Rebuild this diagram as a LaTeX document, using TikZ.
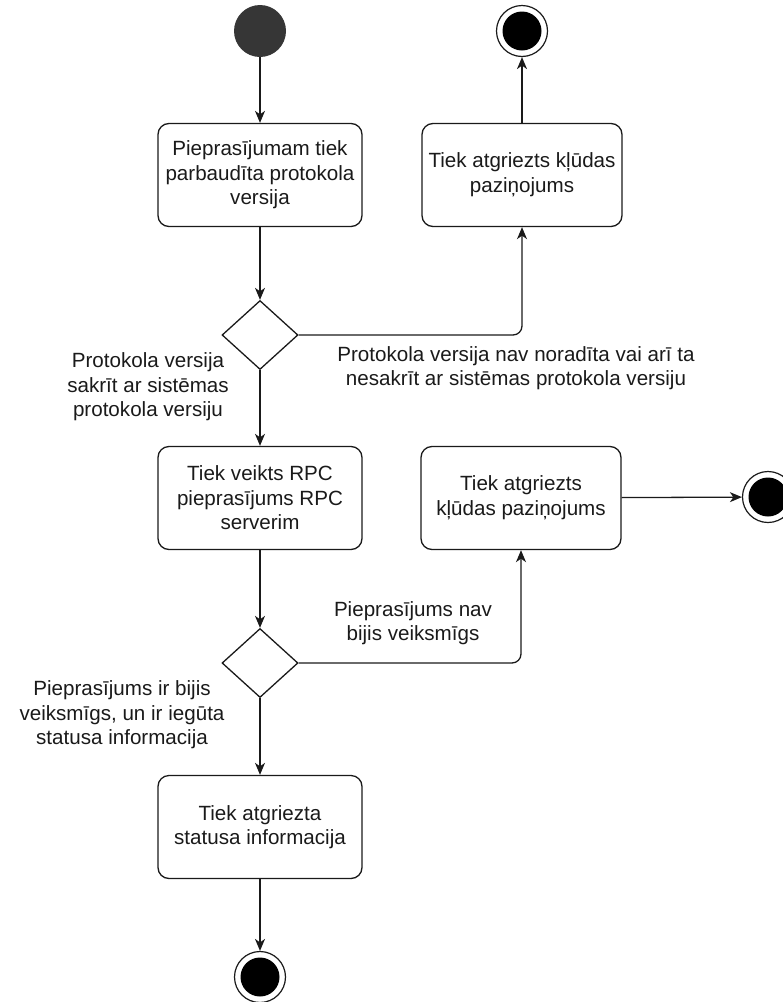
\documentclass[tikz,border=0pt]{standalone}
\usepackage{fontspec}
\setmainfont{Liberation Sans}
\usetikzlibrary{shapes.geometric,arrows.meta}
\definecolor{ink}{HTML}{1A1A1A}
\definecolor{startfill}{HTML}{363636}
\begin{document}
\begin{tikzpicture}[x=1pt,y=-1pt,
  every node/.style={font=\fontsize{20.6}{24.6}\selectfont, text=ink},
  actbox/.style={draw=ink, line width=1.3pt, rounded corners=11pt, minimum width=204pt, minimum height=103pt, align=center, inner sep=2pt},
  decision/.style={draw=ink, line width=1.3pt, diamond, minimum width=76pt, minimum height=69pt, inner sep=0pt},
  startnode/.style={circle, fill=startfill, minimum size=52pt, inner sep=0pt},
  endnode/.style={circle, draw=ink, fill=white, line width=1.2pt, minimum size=51pt, inner sep=0pt,
    path picture={\fill[black] (path picture bounding box.center) circle (19.5pt);}},
  guard/.style={align=center},
  flow/.style={draw=ink, line width=1.3pt, -{Stealth[length=12pt,width=10pt,inset=3.5pt]}, rounded corners=9pt}
]
\useasboundingbox (0,0) rectangle (783,1002);

% activity nodes
\node[startnode] (start) at (260,31) {};
\node[actbox] (check) at (260,175) {Pieprasījumam tiek\\parbaudīta protokola\\versija};
\node[actbox, minimum width=200pt] (err1) at (522,175) {Tiek atgriezts kļūdas\\paziņojums};
\node[endnode] (end1) at (522,31) {};
\node[decision] (dec1) at (260,335) {};
\node[actbox] (rpc) at (260,498) {Tiek veikts RPC\\pieprasījums RPC\\serverim};
\node[actbox, minimum width=200pt] (err2) at (521,498) {Tiek atgriezts\\kļūdas paziņojums};
\node[endnode] (end2) at (768,497) {};
\node[decision] (dec2) at (260,663) {};
\node[actbox] (status) at (260,827) {Tiek atgriezta\\statusa informacija};
\node[endnode] (end3) at (260,977) {};

% guard labels
\node[guard] (g1) at (148,387) {Protokola versija\\sakrīt ar sistēmas\\protokola versiju};
\node[guard] (g2) at (516,368) {Protokola versija nav noradīta vai arī ta\\nesakrīt ar sistēmas protokola versiju};
\node[guard] (g3) at (413,623) {Pieprasījums nav\\bijis veiksmīgs};
\node[guard] (g4) at (122,715) {Pieprasījums ir bijis\\veiksmīgs, un ir iegūta\\statusa informacija};

% control flow
\draw[flow] (start) -- (check);
\draw[flow] (check) -- (dec1);
\draw[flow] (dec1.east) -| (err1.south);
\draw[flow] (err1) -- (end1);
\draw[flow] (dec1) -- (rpc);
\draw[flow] (rpc) -- (dec2);
\draw[flow] (dec2.east) -| (err2.south);
\draw[flow] (err2) -- (end2);
\draw[flow] (dec2) -- (status);
\draw[flow] (status) -- (end3);
\end{tikzpicture}
\end{document}
